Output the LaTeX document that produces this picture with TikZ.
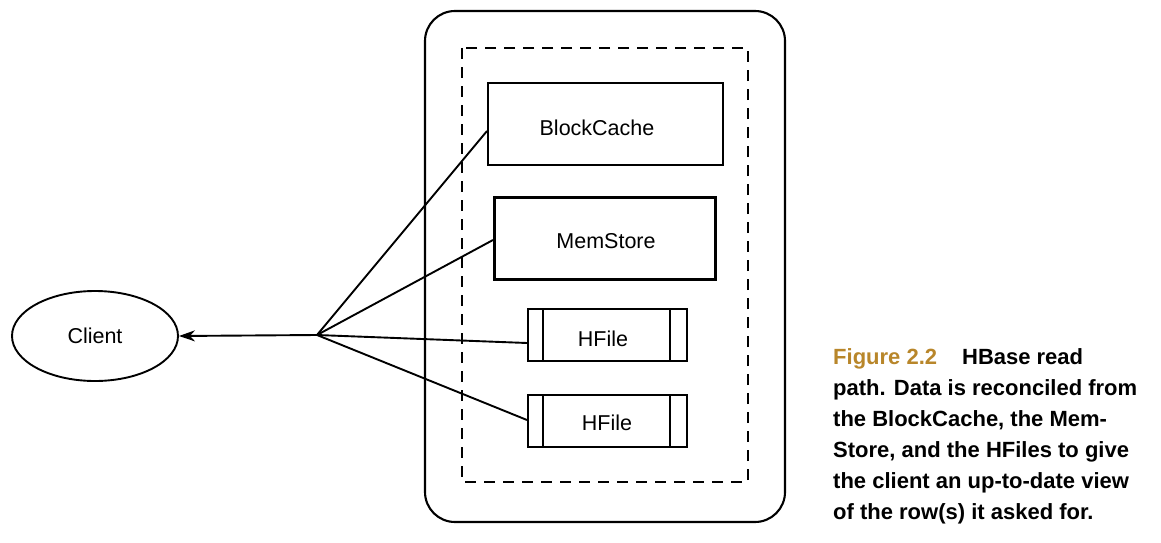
\documentclass[tikz,border=0pt]{standalone}
\usepackage{fontspec}
\setmainfont{Liberation Sans}
\usetikzlibrary{arrows.meta,shapes.geometric}
\definecolor{figgold}{HTML}{B8862A}
\tikzset{
  box/.style={draw, line width=1.9pt, minimum width=0pt, inner sep=0pt},
  lbl/.style={font=\fontsize{21.5}{25}\selectfont},
  conn/.style={line width=1.9pt},
}
\begin{document}
\begin{tikzpicture}[x=1pt,y=-1pt]
\useasboundingbox (0,0) rectangle (1161,543);
% outer container
\draw[line width=2.1pt, rounded corners=30pt] (425,11) rectangle (785,522);
\draw[line width=1.9pt, dash pattern=on 11pt off 8pt] (462,48) rectangle (748,482);
% boxes
\node[box, minimum width=235pt, minimum height=82pt, anchor=north west] (bc) at (487,82) {};
\node[lbl] (bct) at (597,128) {BlockCache};
\node[box, line width=2.8pt, minimum width=221pt, minimum height=82pt, anchor=north west] (ms) at (493,196) {};
\node[lbl] (mst) at (606,241) {MemStore};
\node[box, minimum width=159pt, minimum height=52pt, anchor=north west] (hf1) at (527,308) {};
\draw[conn] (543,308) -- (543,360) (670,308) -- (670,360);
\node[lbl] (hf1t) at (603,339) {HFile};
\node[box, minimum width=159pt, minimum height=52pt, anchor=north west] (hf2) at (527,394) {};
\draw[conn] (543,394) -- (543,446) (670,394) -- (670,446);
\node[lbl] (hf2t) at (607,423) {HFile};
% client
\node[draw, ellipse, line width=1.9pt, minimum width=166pt, minimum height=90pt, inner sep=0pt, lbl] (client) at (95,336) {Client};
\coordinate (hub) at (317,335);
\draw[conn] (hub) -- (bc.west |- 0,131);
\draw[conn] (hub) -- (ms.west |- 0,240);
\draw[conn] (hub) -- (hf1.west |- 0,343);
\draw[conn] (hub) -- (hf2.west |- 0,420);
\draw[conn, -{Stealth[length=16pt,width=11pt,inset=5pt]}] (hub) -- (client.east);
% caption
\node[anchor=north west, align=left, inner sep=0pt, font=\fontsize{22}{31}\selectfont\bfseries] (cap) at (833,348)
{\textcolor{figgold}{Figure 2.2}\hspace{25pt}HBase read\\
path. Data is reconciled from\\
the BlockCache, the Mem-\\
Store, and the HFiles to give\\
the client an up-to-date view\\
of the row(s) it asked for.};
\end{tikzpicture}
\end{document}
